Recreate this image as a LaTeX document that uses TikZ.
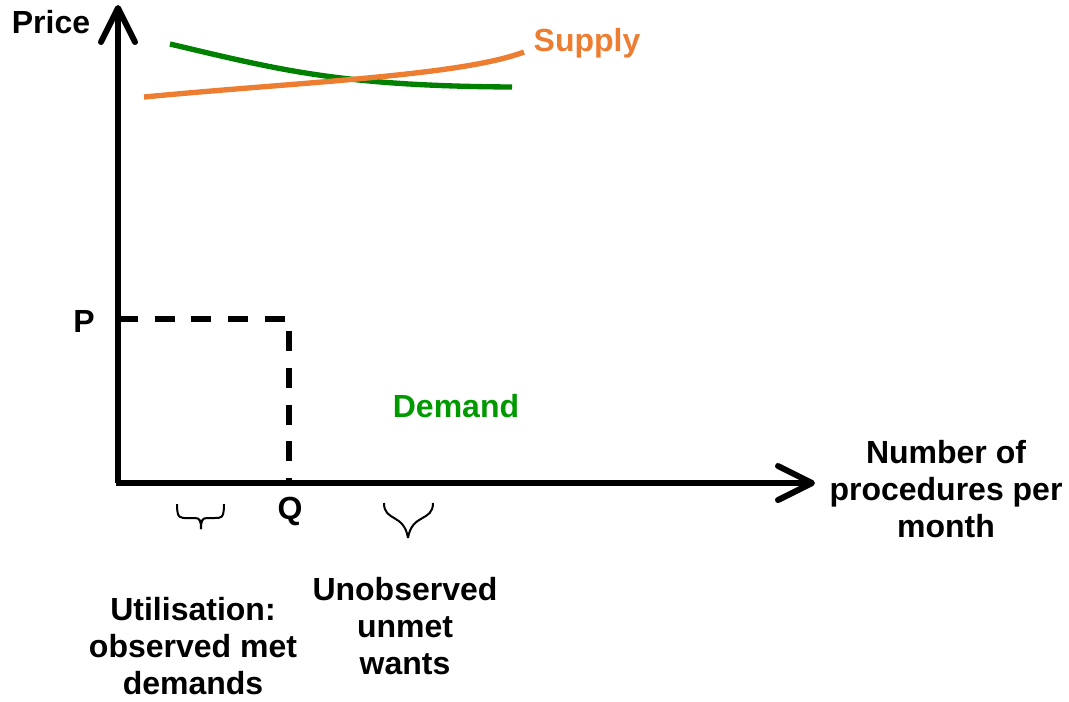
\documentclass[tikz,border=0pt]{standalone}
\usepackage{fontspec}
\setmainfont{Liberation Sans}
\definecolor{supplyc}{HTML}{ED7D31}
\definecolor{demandc}{HTML}{008000}
\definecolor{demandt}{HTML}{009900}
\begin{document}
\begin{tikzpicture}[x=0.75pt,y=-0.75pt,
  axisline/.style={line width=4.3pt,black},
  arrowarm/.style={line width=4.5pt,black,line cap=round,line join=round},
  dashline/.style={line width=3.8pt,black,dash pattern=on 15pt off 12.5pt},
  curveline/.style={line width=4pt},
  bracepath/.style={line width=1.5pt,black},
  lbl/.style={font=\bfseries\fontsize{24}{27.75}\selectfont,align=center,inner sep=0pt}]
\useasboundingbox (0,0) rectangle (1069,701);
% axes
\coordinate (O) at (118,483);
\coordinate (ytip) at (118,8);
\coordinate (xtip) at (812,483);
\draw[axisline] (O) -- (ytip);
\draw[axisline] (116,483) -- (xtip);
\draw[arrowarm] (101,42) -- (ytip) -- (135,42);
\draw[arrowarm] (778,466) -- (xtip) -- (778,500);
% dashed P-Q lines
\coordinate (Pp) at (118,319);
\coordinate (PQ) at (289,319);
\coordinate (Qq) at (289,483);
\draw[dashline] (Pp) -- (PQ) -- (Qq);
% curves
\draw[curveline,demandc] (170,44) .. controls (280,70) and (340,86) .. (512,87);
\draw[curveline,supplyc] (144,97) .. controls (300,82) and (460,76) .. (524,52);
% braces
\draw[bracepath] (177,504) .. controls (177,519) and (180,518) .. (188,518) -- (195,518) .. controls (200,518) and (201,521) .. (201,529);
\draw[bracepath] (224,504) .. controls (224,519) and (221,518) .. (214,518) -- (207,518) .. controls (202,518) and (201,521) .. (201,529);
\draw[bracepath] (384,503) .. controls (384,522) and (404,513) .. (408,538);
\draw[bracepath] (433,503) .. controls (433,522) and (412,513) .. (408,538);
% labels
\node[lbl] (price) at (51,22) {Price};
\node[lbl,text=supplyc] (supply) at (587,43) {Supply};
\node[lbl] (plbl) at (84,321) {P};
\node[lbl] (qlbl) at (290,511) {Q};
\node[lbl,text=demandt] (demand) at (456,406) {Demand};
\node[lbl] (xlbl) at (946,489) {Number of\\procedures per\\month};
\node[lbl] (util) at (193,646) {Utilisation:\\observed met\\demands};
\node[lbl] (unobs) at (405,626) {Unobserved\\unmet\\wants};
\end{tikzpicture}
\end{document}
